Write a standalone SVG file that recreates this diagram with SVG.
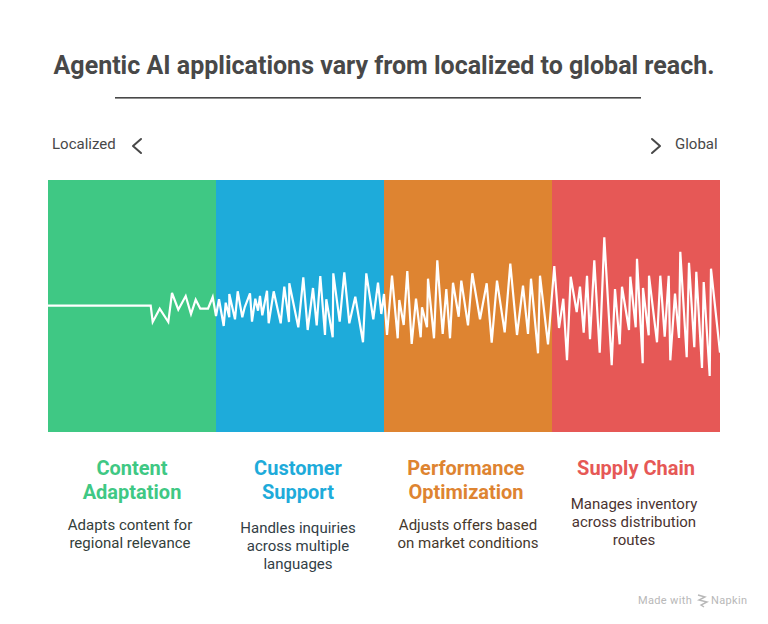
<svg xmlns="http://www.w3.org/2000/svg" width="768" height="624" viewBox="0 0 768 624">
<style>
text{font-family:Roboto,"Liberation Sans",sans-serif}
.t{font-size:25px;font-weight:700;fill:#484848;text-anchor:middle}
.e{font-size:15px;fill:#484848}
.h{font-size:20px;font-weight:700;text-anchor:middle}
.b{font-size:15px;text-anchor:middle}
.w{font-size:11px;fill:#b8b8b8}
.c{fill:none;stroke:#484848;stroke-width:2;stroke-linecap:round;stroke-linejoin:round}
</style>
<rect width="768" height="624" fill="#fff"/>
<g id="title"><text class="t" x="384" y="74">Agentic AI applications vary from localized to global reach.</text><rect x="115" y="97" width="526" height="1.6" fill="#484848"/></g>
<g id="axis-left"><text class="e" x="52" y="149">Localized</text><path class="c" d="M141 139l-8 7 8 7"/></g>
<g id="axis-right"><text class="e" x="675" y="149">Global</text><path class="c" d="M652 139l8 7-8 7"/></g>
<g id="content-adaptation"><rect x="48" y="180" width="168" height="252" fill="#3fc884"/>
<text class="h" x="132" y="475" fill="#3fc884">Content</text><text class="h" x="132" y="499" fill="#3fc884">Adaptation</text>
<g fill="#33403a"><text class="b" x="130" y="530">Adapts content for</text><text class="b" x="130" y="548">regional relevance</text></g></g>
<g id="customer-support"><rect x="216" y="180" width="168" height="252" fill="#1eabda"/>
<text class="h" x="298" y="475" fill="#1eabda">Customer</text><text class="h" x="298" y="499" fill="#1eabda">Support</text>
<g fill="#323e46"><text class="b" x="298" y="533">Handles inquiries</text><text class="b" x="298" y="551">across multiple</text><text class="b" x="298" y="569">languages</text></g></g>
<g id="performance-optimization"><rect x="384" y="180" width="168" height="252" fill="#de8431"/>
<text class="h" x="466" y="475" fill="#de8431">Performance</text><text class="h" x="466" y="499" fill="#de8431">Optimization</text>
<g fill="#46382c"><text class="b" x="468" y="530">Adjusts offers based</text><text class="b" x="468" y="548">on market conditions</text></g></g>
<g id="supply-chain"><rect x="552" y="180" width="168" height="252" fill="#e65856"/>
<text class="h" x="636" y="475" fill="#e65856">Supply Chain</text>
<g fill="#4a3330"><text class="b" x="634" y="509">Manages inventory</text><text class="b" x="634" y="527">across distribution</text><text class="b" x="634" y="545">routes</text></g></g>
<g id="connectors"><polyline fill="none" stroke="#fff" stroke-width="2.2" stroke-linejoin="miter" points="48,305.7 150.7,305.7 152.7,322 159.7,308.7 168.3,322 172,293 178.3,309.7 185.7,296 191,314 195.7,299.7 200.3,308.7 208,308.7 212.7,297 216,316 219,299.3 223.7,326 225.7,302.7 229.3,317.3 229.3,294 235,319.3 237.7,291.3 242.3,317.3 244.7,307.3 250,293.3 252,321.7 255.3,298.7 258,310.7 260,296 262.3,315.3 267,290.7 268.7,323.3 273.7,291.3 280.7,323.3 284.3,286.7 289,322 289.3,283.3 298.3,327.3 303.3,277.3 307.7,330 313,288 316.7,325.3 320.3,276 325,335 326.3,299.3 332.7,337.3 333.3,273.3 339.7,321.7 344.3,272.3 349.3,323.3 355.3,296.7 363,342.3 366.3,273.3 373.3,319.3 378,282.7 381.3,314 384,294 387,335 392,275.7 397.7,338.3 399.3,300 403.7,325 407.3,271 411.7,344 416,298.7 420.7,337.3 422,307.3 427,327.3 428,278.7 434,338.3 437.3,260.3 442.7,334 446.3,289 450,338.3 453,282.7 458.7,316.7 461.3,280.7 468,325.3 472.3,273.3 480,319.3 486.7,283.3 491.7,342.7 497,280.7 504.7,332.3 510.3,263.7 517,335 523,285.7 528,334 531,278.7 538,353.3 540,275.7 548,344.3 554.3,266 559,328 563.3,298.7 567,360.3 570.7,276.7 576.7,312 580,286.7 583.7,332.7 587,275.7 590,339.3 594.3,260.3 599.7,352.7 604.3,237.3 611.7,365.3 615,289 619.7,344.3 622,286.7 629,330 630.3,276.7 635.7,327.3 637,258.7 642.7,363.3 643,288 648.7,335.3 649,275.7 657,342.3 660.3,275.7 664.7,336.7 668.7,275.7 670.3,360.3 675,293.7 679,338 680.3,251.7 686.7,357.3 689,262.7 694.3,347.3 696.3,271.7 702,368 703.7,282 709.7,376 711,268.7 720,352.7"/></g>
<g id="watermark"><text class="w" x="638" y="604" letter-spacing=".35">Made with</text><path d="M698 595l7 2-6 3 8 2-6 3 3 2" fill="none" stroke="#b8b8b8" stroke-width="1.4"/><text class="w" x="711" y="604" letter-spacing=".35">Napkin</text></g>
</svg>
